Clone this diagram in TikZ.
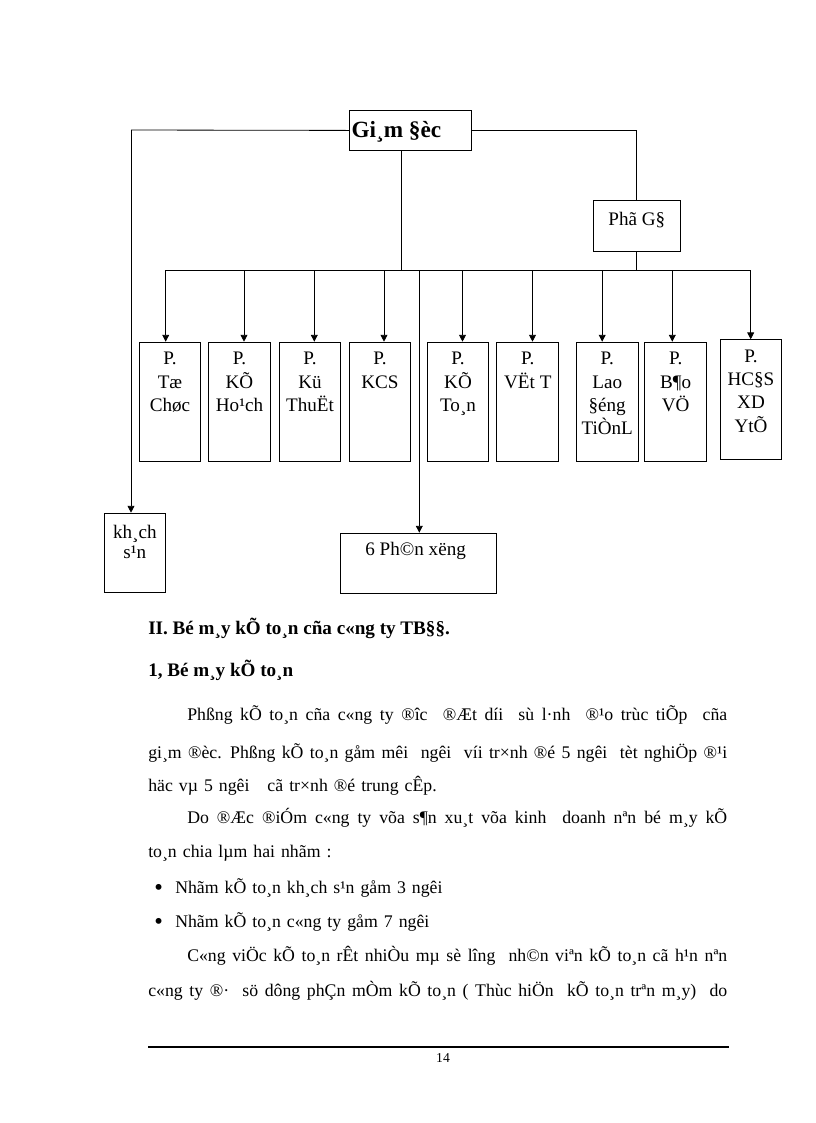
\documentclass[tikz,border=0pt]{standalone}
\usepackage{fontspec}
\setmainfont{Liberation Serif}
\usetikzlibrary{arrows.meta}
\newlength{\px}
\setlength{\px}{0.2574mm}
\newcommand{\widesp}{\spaceskip=4.4pt plus 2pt minus 1pt\relax}
\tikzset{
    box/.style = {rectangle, draw=black, line width=0.7pt, inner sep=0pt, anchor=north west, font=\fontsize{14}{17}\selectfont},
    dept/.style = {box, anchor=north},
    link/.style = {line width=0.6pt},
    linka/.style = {link, -{Triangle[width=5pt,length=5pt]}},
    txt/.style = {anchor=base west, inner sep=0pt, font=\fontsize{13}{16}\selectfont\widesp},
    txtb/.style = {anchor=base west, inner sep=0pt, font=\fontsize{14}{16}\selectfont\bfseries},
    dot/.style = {anchor=base west, inner sep=0pt, font=\fontsize{18}{18}\selectfont},
}
\newcommand{\D}[1]{\parbox[t][87.5pt][t]{45.2pt}{\centering\rule{0pt}{16.6pt}#1}}
\newcommand{\J}[2]{\makebox[#1\px][s]{#2}}
\begin{document}
\begin{tikzpicture}[x=0.2574mm, y=-0.2574mm]
\useasboundingbox (0,0) rectangle (816,1123);
% so do to chuc
\node[box, font=\fontsize{17}{20}\selectfont\bfseries] (gd) at (349,110) {\parbox[t][29.2pt][t]{89pt}{\hspace*{1.5pt}\rule{0pt}{19.9pt}Gi¸m §èc}};
\node[box] (pgd) at (593,200) {\parbox[t][37.2pt][t]{63.5pt}{\centering\rule{0pt}{18.2pt}Phã G§}};
\node[dept] (tc) at (170,341.7) {\D{P.\\Tæ\\Chøc}};
\node[dept] (kh) at (239.5,341.7) {\D{P.\\KÕ\\Ho¹ch}};
\node[dept] (kt) at (310,341.7) {\D{P.\\Kü\\ThuËt}};
\node[dept] (kcs) at (380,341.7) {\D{P.\\KCS}};
\node[dept] (ktn) at (458,341.7) {\D{P.\\KÕ\\To¸n}};
\node[dept] (vt) at (527.8,341.7) {\D{P.\\VËt T}};
\node[dept] (ld) at (607.2,341.7) {\D{P.\\Lao\\§éng\\TiÒnL}};
\node[dept] (bv) at (675.7,341.7) {\D{P.\\B¶o\\VÖ}};
\node[dept] (hc) at (751,339.3) {\D{P.\\HC§S\\XD\\YtÕ}};
\node[box, font=\fontsize{14}{15}\selectfont] (ks) at (104,512.7) {\parbox[t][58.4pt][t]{44.5pt}{\centering\rule{0pt}{18.2pt}kh¸ch\\s¹n}};
\node[box] (px) at (340,532.7) {\parbox[t][43.8pt][t]{114.5pt}{\hspace*{18.2pt}\rule{0pt}{16.3pt}6 Ph©n xëng}};
%
\coordinate (lc) at (131,130);
\coordinate (bus) at (401,270);
\coordinate (bl) at (165.7,270);
\coordinate (br) at (750.7,270);
\draw[link] (gd.west) -- (lc);
\draw[linka] (lc) -- (lc |- ks.north);
\draw[link] (gd.east) -| (pgd.north);
\draw[link] (gd.south -| bus) -- (bus);
\draw[link] (pgd.south) -- (pgd.south |- bus);
\draw[link] (bl) -- (br);
\foreach \x/\n in {165.7/tc, 244/kh, 314.3/kt, 384/kcs, 419.3/px, 462.5/ktn, 532.5/vt, 602.2/ld, 672.3/bv, 750.7/hc}
  \draw[linka] (\x,270) -- (\n.north -| \x,270);
% van ban
\node[txtb] (h1) at (148,634) {II. Bé m¸y kÕ to¸n cña c«ng ty TB§§.};
\node[txtb] (h2) at (148,676) {1, Bé m¸y kÕ to¸n};
\node[txt] (l1) at (187,720) {\J{540}{Phßng kÕ to¸n cña c«ng ty ®îc~ ®Æt díi~ sù l·nh~ ®¹o trùc tiÕp~ cña}};
\node[txt] (l2) at (148,758) {\J{579}{gi¸m ®èc. Phßng kÕ to¸n gåm mêi~ ngêi~ víi tr×nh ®é 5 ngêi~ tèt nghiÖp ®¹i}};
\node[txt] (l3) at (148,791) {häc vµ 5 ngêi~~ cã tr×nh ®é trung cÊp.};
\node[txt] (l4) at (187,823) {\J{540}{Do ®Æc ®iÓm c«ng ty võa s¶n xu¸t võa kinh~ doanh nªn bé m¸y kÕ}};
\node[txt] (l5) at (148,857) {to¸n chia lµm hai nhãm :};
\node[dot] (d1) at (154,895) {•};
\node[txt] (b1) at (175,893) {Nhãm kÕ to¸n kh¸ch s¹n gåm 3 ngêi};
\node[dot] (d2) at (154,929) {•};
\node[txt] (b2) at (175,927) {Nhãm kÕ to¸n c«ng ty gåm 7 ngêi};
\node[txt] (l6) at (187,961) {\J{540}{C«ng viÖc kÕ to¸n rÊt nhiÒu mµ sè lîng~ nh©n viªn kÕ to¸n cã h¹n nªn}};
\node[txt] (l7) at (148,996) {\J{579}{c«ng ty ®·~ sö dông phÇn mÒm kÕ to¸n ( Thùc hiÖn~ kÕ to¸n trªn m¸y)~ do}};
\draw[line width=1.5pt] (148,1047) -- (729,1047);
\node[txt, anchor=base, font=\fontsize{10}{12}\selectfont] (pg) at (443,1062) {14};
\end{tikzpicture}
\end{document}
